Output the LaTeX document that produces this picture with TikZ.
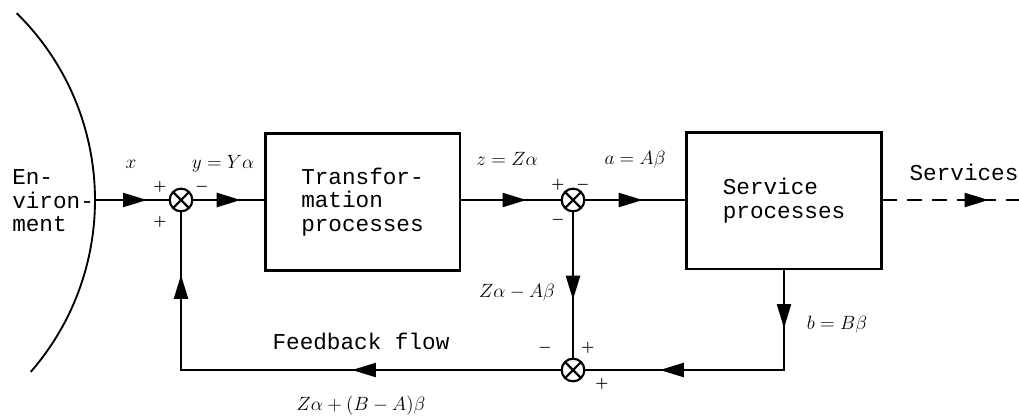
\documentclass[tikz,border=0pt]{standalone}
\usepackage{fontspec}
\setmonofont{Liberation Mono}
\usepackage{tikz}
\usetikzlibrary{positioning,arrows.meta,calc,decorations.markings}
\newcommand{\flowtip}{\arrow{Triangle[length=18pt,width=10.5pt]}}
\tikzset{
  proc/.style={rectangle,draw,line width=2pt,minimum width=146pt,
               minimum height=102.5pt,align=left,inner sep=0pt,
               font=\ttfamily\fontsize{17}{17.6}\selectfont},
  sum/.style={circle,draw,line width=1.6pt,minimum size=17pt,inner sep=0pt,
              path picture={\draw[line width=1.6pt]
                (path picture bounding box.north west) -- (path picture bounding box.south east)
                (path picture bounding box.north east) -- (path picture bounding box.south west);}},
  flow/.style={line width=1.7pt},
  ttlbl/.style={font=\ttfamily\fontsize{17}{17.6}\selectfont,inner sep=0pt},
  varlbl/.style={font=\fontsize{14}{16}\selectfont,inner sep=0pt},
  sgn/.style={font=\fontsize{11}{12}\selectfont\boldmath,inner sep=0pt},
}
\begin{document}
\begin{tikzpicture}[x=0.75pt,y=-0.75pt]
\useasboundingbox (0,0) rectangle (1019,418);
% environment boundary
\draw[line width=1.4pt] (-167,200) ++(-45.5:262) arc[start angle=-45.5,end angle=41,radius=262];
\coordinate (env) at (95,200);
\node[ttlbl,align=left,anchor=west] (envtxt) at (12,201) {En-\\viron-\\ment};
% blocks and summing points
\node[sum] (s1) at (181,200) {};
\node[proc] (trans) at (362.5,202) {Transfor-\\mation\\processes};
\node[sum] (s2) at (573,200) {};
\node[proc] (serv) at (784,200.5) {Service\\processes};
\node[sum] (s3) at (573,370) {};
\coordinate (out) at (1019,200);
% signs
\node[sgn] (s1a) at (160,187) {$+$};
\node[sgn] (s1b) at (160,222) {$+$};
\node[sgn] (s1c) at (202,187) {$-$};
\node[sgn] (s2a) at (558,185) {$+$};
\node[sgn] (s2b) at (583,185) {$-$};
\node[sgn] (s2c) at (558,220) {$-$};
\node[sgn] (s3a) at (545,348) {$-$};
\node[sgn] (s3b) at (588,348) {$+$};
\node[sgn] (s3c) at (602,384) {$+$};
% flow labels
\node[varlbl] (lx) at (131,164) {$x$};
\node[varlbl] (ly) at (223,164) {$y=Y\alpha$};
\node[varlbl] (lz) at (507,159) {$z=Z\alpha$};
\node[varlbl] (la) at (635,160) {$a=A\beta$};
\node[varlbl] (ld) at (517,293) {$Z\alpha-A\beta$};
\node[varlbl] (lb) at (837,325) {$b=B\beta$};
\node[varlbl] (lf) at (361,406) {$Z\alpha+(B-A)\beta$};
\node[ttlbl] (lserv) at (964,172) {Services};
\node[ttlbl] (lfb) at (361,341) {Feedback flow};
% connectors
\draw[flow,postaction={decorate},decoration={markings,mark=at position 39pt with {\flowtip}}]
  (env) -- (s1.west);
\draw[flow,postaction={decorate},decoration={markings,mark=at position 35.5pt with {\flowtip}}]
  (s1.east) -- (s1.east -| trans.west);
\draw[flow,postaction={decorate},decoration={markings,mark=at position 49pt with {\flowtip}}]
  (s2.west -| trans.east) -- (s2.west);
\draw[flow,postaction={decorate},decoration={markings,mark=at position 43pt with {\flowtip}}]
  (s2.east) -- (s2.east -| serv.west);
\draw[flow,dash pattern=on 11pt off 7.5pt,postaction={decorate},
      decoration={markings,mark=at position 79.5pt with {\flowtip}}]
  (serv.east |- out) -- (out);
\draw[flow,postaction={decorate},decoration={markings,mark=at position 65.5pt with {\flowtip}}]
  (s2.south) -- (s3.north);
\draw[flow,postaction={decorate},decoration={markings,
      mark=at position 43.5pt with {\flowtip},mark=at position 168pt with {\flowtip}}]
  (serv.south) |- (s3.east);
\draw[flow,postaction={decorate},decoration={markings,
      mark=at position 156.5pt with {\flowtip},mark=at position 356pt with {\flowtip}}]
  (s3.west) -| (s1.south);
\end{tikzpicture}
\end{document}
